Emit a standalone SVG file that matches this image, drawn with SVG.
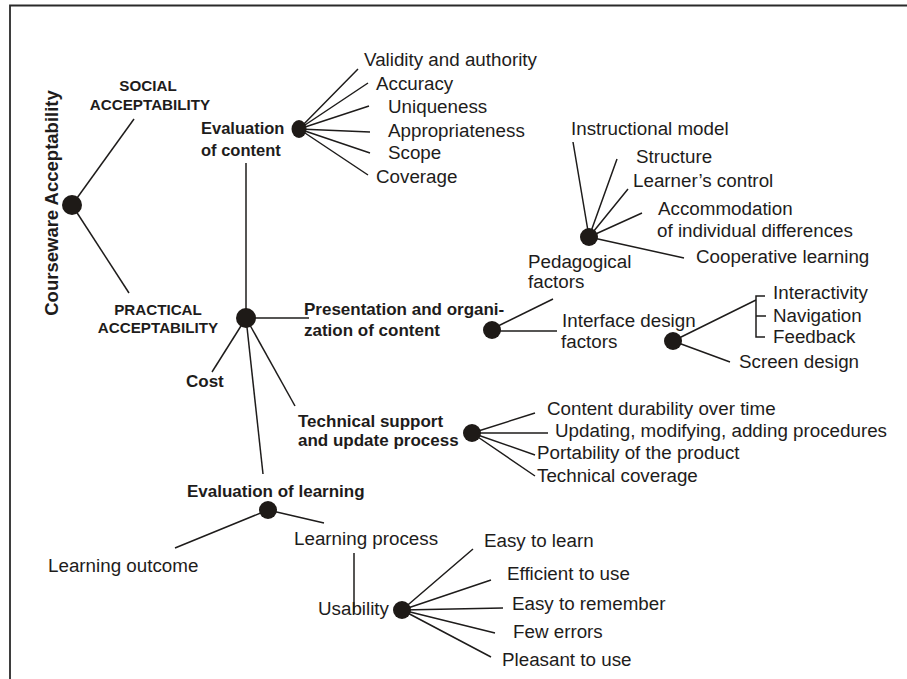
<svg xmlns="http://www.w3.org/2000/svg" width="907" height="679" viewBox="0 0 907 679">
<style>
text{font-family:"Liberation Sans",Arial,sans-serif;fill:#1e1c1b}
.r{font-size:18.8px}
.b{font-size:17px;font-weight:bold}
.c{font-size:15.2px;font-weight:bold}
.t{font-size:18.5px;font-weight:bold}
.ln{stroke:#1e1c1b;stroke-width:1.5;fill:none}
.dot{fill:#1e1a17}
.frame{stroke:#2a2a2a;stroke-width:1.8;fill:none}
</style>
<rect width="907" height="679" fill="#fff"/>
<path class="frame" d="M10,679 V5.5 H907"/>
<g id="connectors" class="ln">
<path d="M72,205 L134,119"/>
<path d="M72,205 L129,293"/>
<path d="M246,163 V318"/>
<path d="M299,129 L358,69 M299,129 L368,83 M299,129 L369,106 M299,129 L370,132 M299,129 L370,153 M299,129 L368,175"/>
<path d="M246,318 H309"/>
<path d="M246,318 L212,372"/>
<path d="M246,318 L263,474"/>
<path d="M246,318 L295,406"/>
<path d="M492,329 L553,299"/>
<path d="M492,331 H557"/>
<path d="M589,237 L573,142 M589,237 L617,159 M589,237 L628,189 M589,237 L642,213 M589,237 L684,258"/>
<path d="M673,341 L756,300 M673,341 L730,362"/>
<path d="M765,296 H756 V337 H765 M756,316 H766"/>
<path d="M472,433 L535,413 M472,433 L548,433 M472,433 L535,455 M472,433 L535,476"/>
<path d="M268,510 L175,548 M268,510 L324,523"/>
<path d="M354,553 V612"/>
<path d="M402,610 L473,549 M402,610 L491,580 M402,610 L503,608 M402,610 L495,633 M402,610 L491,657"/>
</g>
<g id="root">
<circle class="dot" cx="72" cy="205" r="10"/>
<text class="t" transform="translate(58,203) rotate(-90)" text-anchor="middle">Courseware Acceptability</text>
</g>
<g id="social">
<text class="c" x="148" y="91" text-anchor="middle">SOCIAL</text>
<text class="c" x="150" y="110" text-anchor="middle">ACCEPTABILITY</text>
</g>
<g id="practical">
<circle class="dot" cx="246" cy="318" r="10"/>
<text class="c" x="158" y="315" text-anchor="middle">PRACTICAL</text>
<text class="c" x="158" y="333" text-anchor="middle">ACCEPTABILITY</text>
</g>
<g id="eval-content">
<ellipse class="dot" cx="299" cy="129" rx="7.5" ry="9"/>
<text class="b" x="201" y="134" style="font-size:16.5px">Evaluation</text>
<text class="b" x="201" y="156" style="font-size:16.5px">of content</text>
</g>
<g id="content-items">
<text class="r" x="364" y="66">Validity and authority</text>
<text class="r" x="376" y="90">Accuracy</text>
<text class="r" x="388" y="113">Uniqueness</text>
<text class="r" x="388" y="137">Appropriateness</text>
<text class="r" x="388" y="159">Scope</text>
<text class="r" x="376" y="183">Coverage</text>
</g>
<g id="presentation">
<circle class="dot" cx="492" cy="330" r="9"/>
<text class="b" x="304" y="315">Presentation and organi-</text>
<text class="b" x="304" y="336">zation of content</text>
</g>
<g id="pedagogical">
<circle class="dot" cx="589" cy="237" r="9"/>
<text class="r" x="528" y="268">Pedagogical</text>
<text class="r" x="528" y="288">factors</text>
</g>
<g id="pedagogical-items">
<text class="r" x="571" y="135">Instructional model</text>
<text class="r" x="636" y="163">Structure</text>
<text class="r" x="633" y="187">Learner’s control</text>
<text class="r" x="658" y="215">Accommodation</text>
<text class="r" x="657" y="237">of individual differences</text>
<text class="r" x="696" y="263">Cooperative learning</text>
</g>
<g id="interface">
<circle class="dot" cx="673" cy="341" r="9"/>
<text class="r" x="562" y="327">Interface design</text>
<text class="r" x="561" y="348">factors</text>
</g>
<g id="interface-items">
<text class="r" x="773" y="299">Interactivity</text>
<text class="r" x="773" y="322">Navigation</text>
<text class="r" x="773" y="343">Feedback</text>
<text class="r" x="739" y="368">Screen design</text>
</g>
<g id="cost">
<text class="b" x="186" y="387">Cost</text>
</g>
<g id="technical">
<circle class="dot" cx="472" cy="433" r="9"/>
<text class="b" x="298" y="427">Technical support</text>
<text class="b" x="298" y="446">and update process</text>
</g>
<g id="technical-items">
<text class="r" x="547" y="415">Content durability over time</text>
<text class="r" x="555" y="437">Updating, modifying, adding procedures</text>
<text class="r" x="537" y="459">Portability of the product</text>
<text class="r" x="537" y="482">Technical coverage</text>
</g>
<g id="eval-learning">
<circle class="dot" cx="268" cy="510" r="9"/>
<text class="b" x="187" y="497">Evaluation of learning</text>
</g>
<g id="learning-outcome">
<text class="r" x="48" y="572">Learning outcome</text>
</g>
<g id="learning-process">
<text class="r" x="294" y="545">Learning process</text>
</g>
<g id="usability">
<circle class="dot" cx="402" cy="610" r="9"/>
<text class="r" x="318" y="615">Usability</text>
</g>
<g id="usability-items">
<text class="r" x="484" y="547">Easy to learn</text>
<text class="r" x="507" y="580">Efficient to use</text>
<text class="r" x="512" y="610">Easy to remember</text>
<text class="r" x="513" y="638">Few errors</text>
<text class="r" x="502" y="666">Pleasant to use</text>
</g>
</svg>
